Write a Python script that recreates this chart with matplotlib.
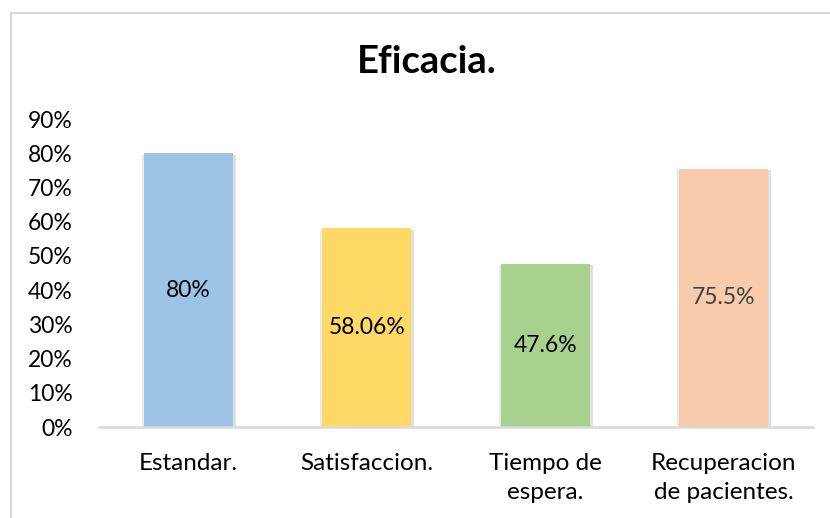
import matplotlib
matplotlib.use("Agg")
import matplotlib.pyplot as plt
import matplotlib.patches as mpatches
import matplotlib.patheffects as pe
from matplotlib.ticker import FuncFormatter, MultipleLocator

categories = ["Estandar.", "Satisfaccion.", "Tiempo de\nespera.", "Recuperacion\nde pacientes."]
values = [80.0, 58.06, 47.6, 75.5]
value_labels = ["80%", "58.06%", "47.6%", "75.5%"]
colors = ["#9DC3E6", "#FFD966", "#A9D18E", "#F8CBAD"]
label_colors = ["#000000", "#000000", "#000000", "#404040"]

plt.rcParams['font.family'] = ['Lato', 'DejaVu Sans']

W, H = 830, 518
fig = plt.figure(figsize=(W/100, H/100), dpi=100)
fig.patch.set_facecolor("white")

# chart border
border = mpatches.Rectangle((11/W, -0.1), 1.2, 1 - 13/H + 0.1, transform=fig.transFigure,
                            fill=False, edgecolor="#d9d9d9", linewidth=1.5)
fig.patches.append(border)

left, right = 99/W, 813/W
bottom, top = 1 - 427/H, 1 - 119/H
ax = fig.add_axes([left, bottom, right - left, top - bottom])

x = list(range(len(categories)))
bars = ax.bar(x, values, width=0.5, color=colors, zorder=3,
              path_effects=[pe.SimplePatchShadow(offset=(2, -1), shadow_rgbFace="#999999", alpha=0.3),
                            pe.SimplePatchShadow(offset=(-1.5, -1), shadow_rgbFace="#999999", alpha=0.2),
                            pe.Normal()])

for xi, v, lab, c in zip(x, values, value_labels, label_colors):
    ax.text(xi, v/2, lab, ha="center", va="center", fontsize=16.5, color=c, zorder=4)

ax.set_ylim(0, 90)
ax.set_xlim(-0.5, 3.5)
ax.yaxis.set_major_locator(MultipleLocator(10))
ax.yaxis.set_major_formatter(FuncFormatter(lambda v, p: f"{int(round(v))}%"))
ax.set_xticks(x)
ax.set_xticklabels(categories, fontsize=17.5, linespacing=1.45)
ax.tick_params(axis="both", length=0, colors="#000000")
ax.tick_params(axis="y", pad=19, labelsize=16.5)
ax.tick_params(axis="x", pad=19)
for lab in ax.get_xticklabels():
    lab.set_va("top")

for s in ["left", "right", "top"]:
    ax.spines[s].set_visible(False)
ax.spines["bottom"].set_color("#d9d9d9")
ax.spines["bottom"].set_linewidth(1.8)
ax.spines["bottom"].set_zorder(5)

fig.text(427/W, 1 - 73/H, "Eficacia.", ha="center", va="baseline", fontsize=27.5, fontweight="bold")

fig.savefig("out.png", dpi=100, facecolor="white")
